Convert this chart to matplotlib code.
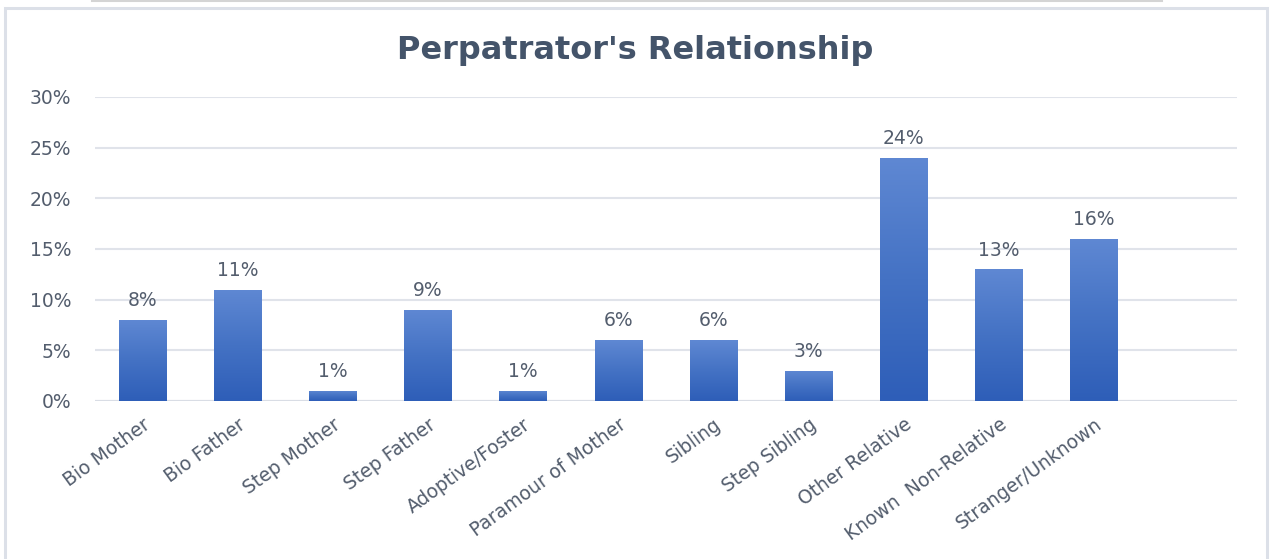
import numpy as np
import matplotlib.pyplot as plt
from matplotlib.patches import Rectangle
from matplotlib.lines import Line2D
from matplotlib.colors import LinearSegmentedColormap

plt.rcParams['font.family'] = ['DejaVu Sans']

categories = ['Bio Mother', 'Bio Father', 'Step Mother', 'Step Father', 'Adoptive/Foster',
              'Paramour of Mother', 'Sibling', 'Step Sibling', 'Other Relative',
              'Known  Non-Relative', 'Stranger/Unknown']
values = [8, 11, 1, 9, 1, 6, 6, 3, 24, 13, 16]
yticks = [0, 5, 10, 15, 20, 25, 30]

W, H = 1271, 559
fig = plt.figure(figsize=(W / 100, H / 100), dpi=100)

# outer frame and top line
fig.add_artist(Rectangle((5 / W, -0.05), 1262 / W, (H - 8) / H + 0.05, transform=fig.transFigure,
                         fill=False, edgecolor='#DCE0E8', linewidth=2.2))
fig.add_artist(Line2D([92 / W, 1162 / W], [1 - 1 / H, 1 - 1 / H], transform=fig.transFigure,
                      color='#D4D4D4', linewidth=1.5))

ax = fig.add_axes([95 / W, 158 / H, 1142 / W, 304 / H])
x = np.arange(len(categories))
bars = ax.bar(x, values, width=0.5, color='none', edgecolor='none', zorder=3)

txt = '#535D6D'
cmap = LinearSegmentedColormap.from_list('grad', ['#2E5EB8', '#4472C4', '#5F88D3'])
grad = np.linspace(0, 1, 256).reshape(-1, 1)
for b in bars:
    bx, by, bw, bh = b.get_x(), b.get_y(), b.get_width(), b.get_height()
    im = ax.imshow(grad, extent=(bx, bx + bw, by, by + bh), origin='lower', cmap=cmap,
                   aspect='auto', zorder=3)
    im.set_clip_path(b)
    ax.annotate(f'{int(bh)}%', (bx + bw / 2, bh), xytext=(0, 7), textcoords='offset points',
                ha='center', va='bottom', fontsize=13.5, color=txt)

ax.set_xlim(-0.5, len(categories) + 0.5)
ax.set_ylim(0, 30)
ax.set_yticks(yticks)
ax.set_yticklabels([f'{t}%' for t in yticks])
ax.set_xticks(x)
ax.set_xticklabels(categories, rotation=36, ha='right', rotation_mode='anchor')
ax.tick_params(axis='both', length=0, labelsize=13.5, colors=txt)
ax.tick_params(axis='y', pad=17)
ax.tick_params(axis='x', pad=10)
ax.grid(axis='y', color='#E0E3EA', linewidth=1.5, zorder=0)
for s in ax.spines.values():
    s.set_visible(False)
ax.axhline(0, color='#D9DDE5', linewidth=1.5, zorder=2)

fig.text(0.5, 1 - 50 / H, "Perpatrator's Relationship", ha='center', va='center',
         fontsize=23, fontweight='bold', color='#44546A')

fig.savefig('out.png', dpi=100)
